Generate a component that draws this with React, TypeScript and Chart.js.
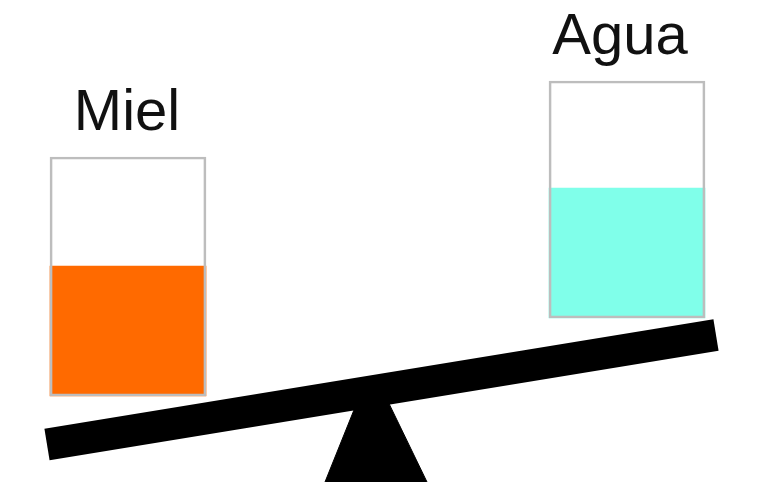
import { useEffect, useRef } from 'react';
import { Chart, registerables, type Plugin } from 'chart.js';

Chart.register(...registerables);

// Two containers on a seesaw: values are heights in plot units (0 = bottom edge)
const containers = ['Miel', 'Agua'];
const containerCenter = [128, 627];
const containerBase = [89, 167];
const liquidLevel = [219, 297];
const containerTop = [328, 404];
const liquidColors = ['#ff6a00', '#80ffea'];

// Seesaw beam (centre line) and fulcrum outline
const beamX = [47, 716];
const beamY = [40.5, 150];
const fulcrumX = [325, 364, 380, 427];
const fulcrumY = [3, 100, 100, 3];

const labelPlugin: Plugin<'bar'> = {
  id: 'containerLabels',
  afterDatasetsDraw(chart) {
    const { ctx, scales } = chart;
    const nudge = [-1, -7];
    ctx.save();
    ctx.font = '58px "Liberation Sans", Arial, sans-serif';
    ctx.fillStyle = '#111';
    ctx.textAlign = 'center';
    ctx.textBaseline = 'alphabetic';
    containers.forEach((name, i) => {
      const x = scales.x.getPixelForValue(containerCenter[i]) + nudge[i];
      const y = scales.y.getPixelForValue(containerTop[i]);
      ctx.fillText(name, x, y - 27);
    });
    ctx.restore();
  },
};

export default function App() {
  const canvasRef = useRef<HTMLCanvasElement>(null);

  useEffect(() => {
    if (!canvasRef.current) return;
    const context = canvasRef.current.getContext('2d');
    if (!context) return;

    const chart = new Chart(context, {
      type: 'bar',
      data: {
        datasets: [
          {
            type: 'line',
            label: 'Balancín',
            data: beamX.map((x, i) => ({ x, y: beamY[i] })),
            borderColor: '#000',
            borderWidth: 32,
            borderCapStyle: 'butt',
            pointRadius: 0,
            fill: false,
            order: 0,
          },
          {
            type: 'line',
            label: 'Apoyo',
            data: fulcrumX.map((x, i) => ({ x, y: fulcrumY[i] })),
            borderColor: '#000',
            backgroundColor: '#000',
            borderWidth: 1,
            pointRadius: 0,
            tension: 0,
            fill: { value: 3 },
            order: 1,
          },
          {
            type: 'bar',
            label: 'Envase',
            data: containers.map((_, i) => ({
              x: containerCenter[i],
              y: [containerBase[i], containerTop[i]],
            })),
            backgroundColor: 'rgba(0,0,0,0)',
            borderColor: '#bdbdbd',
            borderWidth: 2,
            borderSkipped: false,
            barThickness: 156,
            grouped: false,
            order: 2,
          },
          {
            type: 'bar',
            label: 'Líquido',
            data: containers.map((_, i) => ({
              x: containerCenter[i],
              y: [containerBase[i], liquidLevel[i]],
            })),
            backgroundColor: liquidColors,
            borderWidth: 0,
            barThickness: 156,
            grouped: false,
            order: 3,
          },
        ],
      } as any,
      options: {
        animation: false,
        responsive: true,
        maintainAspectRatio: false,
        events: [],
        layout: { padding: 0 },
        plugins: {
          legend: { display: false },
          tooltip: { enabled: false },
        },
        scales: {
          x: { type: 'linear', min: 0, max: 784, offset: false, display: false },
          y: { type: 'linear', min: 0, max: 485, display: false },
        },
      },
      plugins: [labelPlugin],
    });

    return () => {
      chart.destroy();
    };
  }, []);

  return (
    <div
      style={{
        position: 'fixed',
        left: 0,
        top: 0,
        width: 784,
        height: 485,
        background: '#fff',
      }}
    >
      <canvas ref={canvasRef} />
    </div>
  );
}
